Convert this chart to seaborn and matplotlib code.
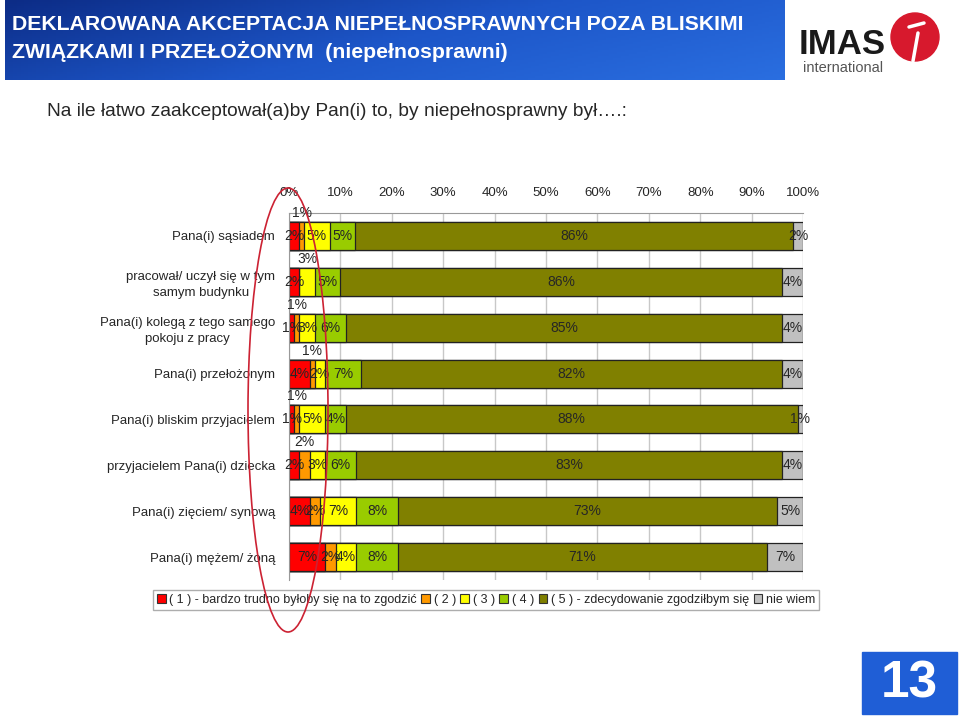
import matplotlib
matplotlib.use("Agg")
import matplotlib.pyplot as plt
from matplotlib.colors import LinearSegmentedColormap
from matplotlib.patches import Circle, Ellipse, Patch, Rectangle
import numpy as np
import pandas as pd
import seaborn as sns

# --- data ---
categories = [
    "Pana(i) sąsiadem",
    "pracował/ uczył się w tym\nsamym budynku",
    "Pana(i) kolegą z tego samego\npokoju z pracy",
    "Pana(i) przełożonym",
    "Pana(i) bliskim przyjacielem",
    "przyjacielem Pana(i) dziecka",
    "Pana(i) zięciem/ synową",
    "Pana(i) mężem/ żoną",
]
very_hard = [2, 2, 1, 4, 1, 2, 4, 7]
rather_hard = [1, 0, 1, 1, 1, 2, 2, 2]
neutral = [5, 3, 3, 2, 5, 3, 7, 4]
rather_easy = [5, 5, 6, 7, 4, 6, 8, 8]
very_easy = [86, 86, 85, 82, 88, 83, 73, 71]
dont_know = [2, 4, 4, 4, 1, 4, 5, 7]

legend_labels = [
    "( 1 ) - bardzo trudno byłoby się na to zgodzić",
    "( 2 )",
    "( 3 )",
    "( 4 )",
    "( 5 ) - zdecydowanie zgodziłbym się",
    "nie wiem",
]
segment_colors = ["#ff0000", "#ff9900", "#ffff00", "#99cc00", "#808000", "#c0c0c0"]

# segment whose label sits above the bar (row -> segment index)
lifted = {0: 1, 1: 2, 2: 1, 3: 1, 4: 1, 5: 1}

df = pd.DataFrame(
    {
        "s1": very_hard,
        "s2": rather_hard,
        "s3": neutral,
        "s4": rather_easy,
        "s5": very_easy,
        "s6": dont_know,
    },
    index=categories,
)
segments = list(df.columns)
# 100% stacked, like the original
pct = df.div(df.sum(axis=1), axis=0) * 100
cum = pct.cumsum(axis=1)

sns.set_style("white")
plt.rcParams["font.family"] = ["Liberation Sans", "DejaVu Sans"]

fig = plt.figure(figsize=(9.6, 7.16), dpi=100)
ax = fig.add_axes([289 / 960, 1 - 580 / 716, 514 / 960, 367 / 716])

# draw cumulative bars from the longest to the shortest
for name, color in reversed(list(zip(segments, segment_colors))):
    sns.barplot(x=cum[name].values, y=categories, order=categories, orient="h",
                color=color, width=0.61, edgecolor="#222222", linewidth=0.9,
                saturation=1, errorbar=None, ax=ax, zorder=2)

ax.set_xlim(0, 100)
ax.set_ylim(7.5, -0.5)
ax.set_xlabel("")
ax.set_ylabel("")

ax.xaxis.tick_top()
ax.set_xticks(range(0, 101, 10))
ax.set_xticklabels([f"{t}%" for t in range(0, 101, 10)], fontsize=9.5)
ax.tick_params(axis="x", length=0, pad=10)
ax.set_axisbelow(True)
ax.grid(axis="x", color="#c8c8c8", lw=1)

ax.set_yticks(range(len(categories)))
ax.set_yticklabels(categories, fontsize=9.5, multialignment="center", linespacing=1.4)
ax.tick_params(axis="y", which="major", length=0, pad=10)
ax.set_yticks(np.arange(-0.5, len(categories), 1), minor=True)
ax.tick_params(axis="y", which="minor", length=5, color="#999999", direction="out")

for side in ["right", "bottom"]:
    ax.spines[side].set_visible(False)
for side in ["top", "left"]:
    ax.spines[side].set_color("#999999")

# value labels
for i, cat in enumerate(categories):
    left = 0
    for j, name in enumerate(segments):
        v = df.loc[cat, name]
        w = pct.loc[cat, name]
        if v > 0:
            y = i - 0.5 if lifted.get(i) == j else i
            ax.text(left + w / 2, y, f"{v}%", ha="center", va="center",
                    fontsize=10, zorder=5)
        left += w

handles = [Patch(facecolor=c, edgecolor="#333333", lw=0.8) for c in segment_colors]
fig.legend(handles, legend_labels, loc="center", bbox_to_anchor=(486 / 960, 1 - 600 / 716),
           ncol=6, frameon=True, fontsize=9, handlelength=0.7, handleheight=0.7,
           handletextpad=0.3, columnspacing=0.35, borderpad=0.3, borderaxespad=0,
           fancybox=False, edgecolor="#999999")

# --- page decoration: banner, logo, subtitle, page number, red marker ---
ov = fig.add_axes([0, 0, 1, 1], zorder=10)
ov.patch.set_alpha(0)
ov.axis("off")

xx, yy = np.meshgrid(np.linspace(0, 1, 200), np.linspace(0, 1, 40))
banner_cmap = LinearSegmentedColormap.from_list("banner", ["#0c2c86", "#1d56c8", "#2a6ee0"])
ov.imshow(0.7 * xx + 0.3 * yy, extent=[5, 785, 80, 0], cmap=banner_cmap, aspect="auto")
ov.text(12, 25, "DEKLAROWANA AKCEPTACJA NIEPEŁNOSPRAWNYCH POZA BLISKIMI",
        color="white", fontsize=15.3, fontweight="bold", va="center")
ov.text(12, 52, "ZWIĄZKAMI I PRZEŁOŻONYM  (niepełnosprawni)",
        color="white", fontsize=15.3, fontweight="bold", va="center")

ov.text(799, 44, "IMAS", fontsize=25, fontweight="bold", va="center", color="#1a1a1a")
ov.text(803, 68, "international", fontsize=10.5, va="center", color="#555555")
ov.add_patch(Circle((915, 37), 24, color="#d7192d"))
ov.plot([909, 924], [27, 23], color="white", lw=2.5, solid_capstyle="round")
ov.plot([918, 913], [33, 61], color="white", lw=2.5, solid_capstyle="round")

ov.text(47, 112, "Na ile łatwo zaakceptował(a)by Pan(i) to, by niepełnosprawny był….:",
        fontsize=13.8, va="center")

ov.add_patch(Rectangle((862, 652), 95, 62, color="#1f5ed6"))
ov.text(909.5, 684, "13", color="white", fontsize=37, fontweight="bold",
        ha="center", va="center")

ov.add_patch(Ellipse((288, 410), 80, 444, fill=False, ec="#cc2233", lw=1.2))

ov.set_xlim(0, 960)
ov.set_ylim(716, 0)

fig.savefig("out.png", dpi=100)
